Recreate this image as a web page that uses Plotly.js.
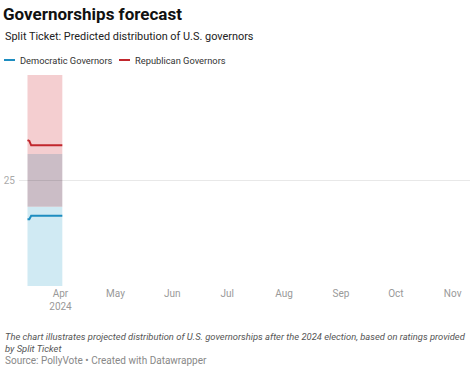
<!DOCTYPE html>
<html><head><meta charset="utf-8">
<script src="https://cdn.plot.ly/plotly-3.0.1.min.js"></script>
<style>html,body{margin:0;padding:0;background:#fff;}#chart{width:474px;height:369px;}</style>
</head><body><div id="chart"></div>
<script>
const dates = ["2024-03-14","2024-03-15","2024-03-16","2024-03-17","2024-03-18","2024-03-19","2024-03-20","2024-03-21","2024-03-22","2024-03-23","2024-03-24","2024-03-25","2024-03-26","2024-03-27","2024-03-28","2024-03-29","2024-03-30","2024-03-31","2024-04-01","2024-04-02"];
const demGov = [22.8,22.8,23.0,23.0,23.0,23.0,23.0,23.0,23.0,23.0,23.0,23.0,23.0,23.0,23.0,23.0,23.0,23.0,23.0,23.0];
const repGov = [27.3,27.25,27.0,27.0,27.0,27.0,27.0,27.0,27.0,27.0,27.0,27.0,27.0,27.0,27.0,27.0,27.0,27.0,27.0,27.0];
const demLow = [19,19,19,19,19,19,19,19,19,19,19,19,19,19,19,19,19,19,19,19];
const demHigh = [26.5,26.5,26.5,26.5,26.5,26.5,26.5,26.5,26.5,26.5,26.5,26.5,26.5,26.5,26.5,26.5,26.5,26.5,26.5,26.5];
const repLow = [23.5,23.5,23.5,23.5,23.5,23.5,23.5,23.5,23.5,23.5,23.5,23.5,23.5,23.5,23.5,23.5,23.5,23.5,23.5,23.5];
const repHigh = [31,31,31,31,31,31,31,31,31,31,31,31,31,31,31,31,31,31,31,31];
const seriesNames = ["Democratic Governors","Republican Governors"];
const yTicks = [25];
const xTickVals = ["2024-04-01","2024-05-01","2024-06-01","2024-07-01","2024-08-01","2024-09-01","2024-10-01","2024-11-01"];
const xTickText = ["Apr<br>2024","May","Jun","Jul","Aug","Sep","Oct","Nov"];

const W=474,H=369, L=22, R=14, T=75, B=83;
const pw=W-L-R, ph=H-T-B;
const px = x => (x-L)/pw;
const py = y => (H-B-y)/ph;

// band split so overlap gets its own (multiplied) colour
const demOnlyTop = demHigh.map((v,i)=>Math.min(v,repLow[i]));
const overlapTop = demHigh.map((v,i)=>Math.max(v,repLow[i]));
const redOnlyLow = repLow.map((v,i)=>Math.max(v,demHigh[i]));

const RED="#c1272d", BLUE="#1d8dc0";
const BAND_BLUE="#d0eaf3", BAND_RED="#f4ced0", BAND_MIX="#cbbdc6";
const band = (y,fill)=>({x:dates,y:y,mode:'lines',line:{width:0},fill:fill?'tonexty':'none',fillcolor:fill,showlegend:false,hoverinfo:'skip'});
const traces = [
  band(demLow,null),
  band(demOnlyTop,BAND_BLUE),
  band(repLow,null),
  band(overlapTop,BAND_MIX),
  band(redOnlyLow,null),
  band(repHigh,BAND_RED),
  {x:dates,y:demGov,name:seriesNames[0],mode:'lines',line:{color:BLUE,width:2},showlegend:false},
  {x:dates,y:repGov,name:seriesNames[1],mode:'lines',line:{color:RED,width:2},showlegend:false}
];

const F="Roboto, 'Noto Sans', sans-serif";
const layout = {
  width:W,height:H,margin:{l:L,r:R,t:T,b:B},
  paper_bgcolor:'#fff',plot_bgcolor:'#fff',
  showlegend:false,
  title:{text:"<b>Governorships forecast</b>",font:{family:F,size:17,color:'#111'},xref:'container',yref:'container',x:3/W,xanchor:'left',y:1-14/H,yanchor:'middle'},
  xaxis:{type:'date',range:["2024-03-11","2024-11-05"],tickvals:xTickVals,ticktext:xTickText,showgrid:false,zeroline:false,showline:false,ticks:'',tickfont:{family:F,size:10,color:'#999'},fixedrange:true},
  yaxis:{range:[19,31],tickvals:yTicks,showgrid:false,zeroline:false,showline:false,ticks:'',ticklabelstandoff:6,tickfont:{family:F,size:10,color:'#aaa'},fixedrange:true},
  shapes:[
    {type:'line',xref:'paper',yref:'y',x0:px(19),x1:px(470),y0:25,y1:25,line:{color:'rgba(0,0,0,0.09)',width:1},layer:'above'},
    {type:'line',xref:'paper',yref:'paper',x0:px(4),x1:px(15),y0:py(60),y1:py(60),line:{color:BLUE,width:2}},
    {type:'line',xref:'paper',yref:'paper',x0:px(119),x1:px(130),y0:py(60),y1:py(60),line:{color:RED,width:2}}
  ],
  annotations:[
    {text:"Split Ticket: Predicted distribution of U.S. governors",xref:'paper',yref:'paper',x:px(3),y:py(37),xanchor:'left',yanchor:'middle',showarrow:false,font:{family:F,size:10.9,color:'#222'}},
    {text:seriesNames[0],xref:'paper',yref:'paper',x:px(18),y:py(60),xanchor:'left',yanchor:'middle',showarrow:false,font:{family:F,size:9.3,color:'#333'}},
    {text:seriesNames[1],xref:'paper',yref:'paper',x:px(133),y:py(60),xanchor:'left',yanchor:'middle',showarrow:false,font:{family:F,size:9.3,color:'#333'}},
    {text:"<i>The chart illustrates projected distribution of U.S. governorships after the 2024 election, based on ratings provided<br>by Split Ticket</i>",xref:'paper',yref:'paper',x:px(3),y:py(329),xanchor:'left',yanchor:'top',align:'left',showarrow:false,font:{family:F,size:9.4,color:'#555'}},
    {text:"Source: PollyVote • Created with Datawrapper",xref:'paper',yref:'paper',x:px(3),y:py(360),xanchor:'left',yanchor:'middle',showarrow:false,font:{family:F,size:10,color:'#888'}}
  ]
};
Plotly.newPlot('chart',traces,layout,{displayModeBar:false,staticPlot:true});
</script></body></html>
